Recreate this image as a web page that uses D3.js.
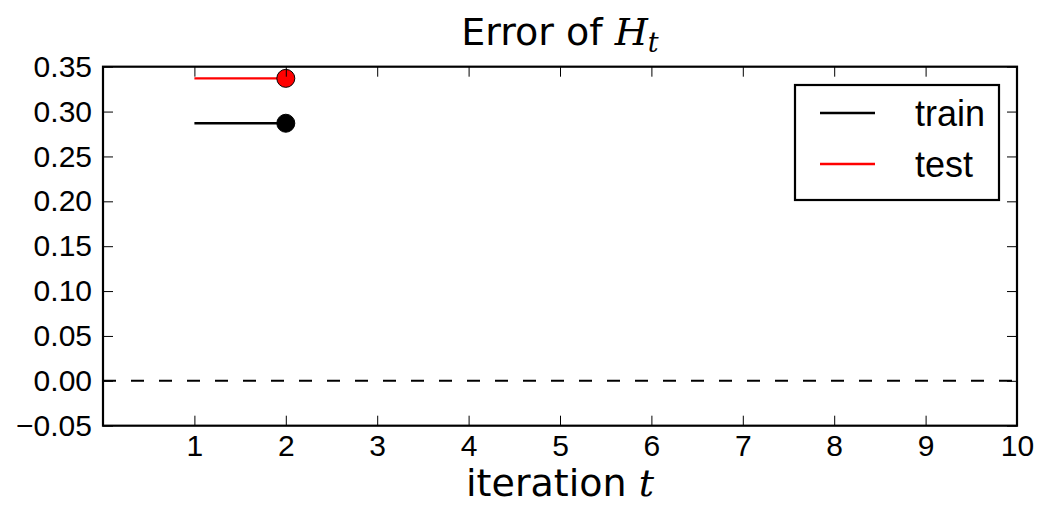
<!DOCTYPE html>
<html><head><meta charset="utf-8">
<script src="https://cdn.jsdelivr.net/npm/d3@7"></script>
<style>body{margin:0;background:#fff}svg{display:block}</style>
</head><body><svg id="c" width="1046" height="506"></svg>
<script>
const iterations = [1, 2];
const trainErr = [0.287, 0.287];
const testErr = [0.337, 0.337];
const xTicks = [1,2,3,4,5,6,7,8,9,10];
const yTicks = [-0.05,0,0.05,0.10,0.15,0.20,0.25,0.30,0.35];
const legendLabels = ["train","test"];
const seriesColors = ["#000000","#ff0000"];

const svg = d3.select("#c");
const L=103, R=1017, T=66.7, B=425.7;
const x = d3.scaleLinear().domain([0,10]).range([L,R]);
const y = d3.scaleLinear().domain([-0.05,0.35]).range([B,T]);
const tickFont = "Liberation Sans, Arial, sans-serif";

// zero dashed line
svg.append("line").attr("x1",L).attr("x2",R).attr("y1",y(0)).attr("y2",y(0))
  .attr("stroke","#000").attr("stroke-width",2).attr("stroke-dasharray","13,15");

const series = [trainErr, testErr];
series.forEach((vals,i)=>{
  const pts = iterations.map((it,j)=>[it, vals[j]]);
  svg.append("path").attr("d", d3.line().x(d=>x(d[0])).y(d=>y(d[1]))(pts))
    .attr("fill","none").attr("stroke",seriesColors[i]).attr("stroke-width",2.3);
  const last = pts[pts.length-1];
  svg.append("circle").attr("cx",x(last[0])).attr("cy",y(last[1])).attr("r",9)
    .attr("fill",seriesColors[i]).attr("stroke","#000").attr("stroke-width",1);
});

function style(g, labels){
  g.select(".domain").remove();
  g.selectAll(".tick line").attr("stroke","#000").attr("stroke-width",1);
  g.selectAll("text").attr("font-family",tickFont).attr("font-size",30).attr("fill","#000");
  if(!labels) g.selectAll("text").remove();
}
svg.append("g").attr("transform",`translate(0,${B})`)
  .call(d3.axisBottom(x).tickValues(xTicks).tickFormat(d3.format("d")).tickSize(-10).tickPadding(9))
  .call(g=>style(g,true));
svg.append("g").attr("transform",`translate(0,${T})`)
  .call(d3.axisTop(x).tickValues(xTicks).tickSize(-10))
  .call(g=>style(g,false));
svg.append("g").attr("transform",`translate(${L},0)`)
  .call(d3.axisLeft(y).tickValues(yTicks).tickFormat(d3.format(".2f")).tickSize(-10).tickPadding(11))
  .call(g=>style(g,true));
svg.append("g").attr("transform",`translate(${R},0)`)
  .call(d3.axisRight(y).tickValues(yTicks).tickSize(-10))
  .call(g=>style(g,false));

svg.append("rect").attr("x",L).attr("y",T).attr("width",R-L).attr("height",B-T)
  .attr("fill","none").attr("stroke","#000").attr("stroke-width",2.2);

// legend
const lg = svg.append("g");
lg.append("rect").attr("x",795).attr("y",85).attr("width",204).attr("height",115)
  .attr("fill","#fff").attr("stroke","#000").attr("stroke-width",2.2);
legendLabels.forEach((lab,i)=>{
  const yy = 113 + i*51;
  lg.append("line").attr("x1",820).attr("x2",875).attr("y1",yy).attr("y2",yy)
    .attr("stroke",seriesColors[i]).attr("stroke-width",2.3);
  lg.append("text").attr("x",915).attr("y",yy+13).text(lab)
    .attr("font-family",tickFont).attr("font-size",36);
});

// title
const t = svg.append("text").attr("x",(L+R)/2).attr("y",45).attr("text-anchor","middle")
  .attr("font-family","DejaVu Sans, sans-serif").attr("font-size",38);
t.append("tspan").text("Error of ");
t.append("tspan").text("H").attr("font-family","DejaVu Serif, serif").attr("font-style","italic");
t.append("tspan").text("t").attr("font-family","DejaVu Serif, serif").attr("font-style","italic")
  .attr("font-size",27).attr("dy",7);

// x label
const xl = svg.append("text").attr("x",(L+R)/2).attr("y",496).attr("text-anchor","middle")
  .attr("font-family","DejaVu Sans, sans-serif").attr("font-size",38);
xl.append("tspan").text("iteration ");
xl.append("tspan").text("t").attr("font-family","DejaVu Serif, serif").attr("font-style","italic");
</script></body></html>
